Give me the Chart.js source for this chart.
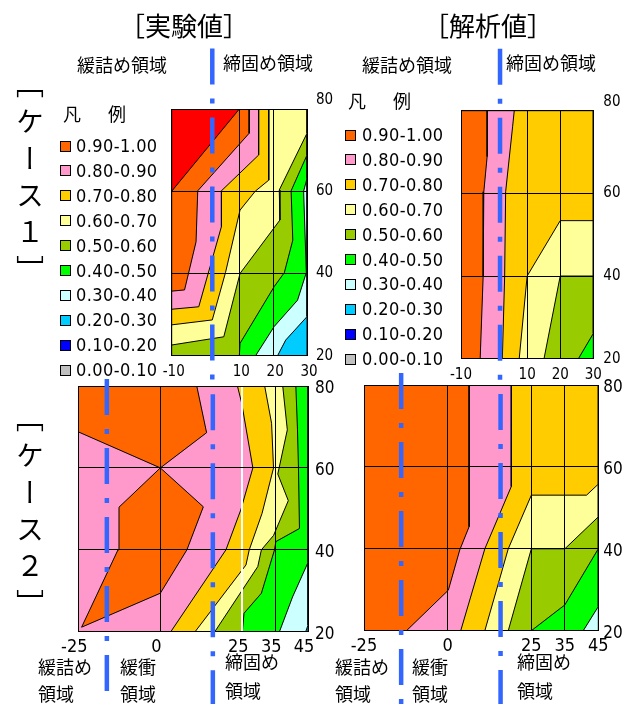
<!DOCTYPE html>
<html>
<head>
<meta charset="utf-8">
<script src="https://cdn.jsdelivr.net/npm/chart.js@4.4.1/dist/chart.umd.min.js"></script>
<style>
  html, body { margin: 0; padding: 0; background: #fff; }
  #page { position: relative; width: 636px; height: 704px; overflow: hidden;
          font-family: "Noto Sans CJK JP", sans-serif; color: #000; }
  #page canvas { position: absolute; left: 0; top: 0; }
  .t { position: absolute; white-space: nowrap; line-height: 1; }
  .c { transform: translate(-50%, -50%); }
  .l { transform: translate(0, -50%); }
  .title { font-size: 26px; }
  .zone { font-size: 18px; }
  .hanrei { font-size: 18px; letter-spacing: 4.5px; }
  .case { position: absolute; writing-mode: vertical-rl; font-size: 28px;
          letter-spacing: 9px; line-height: 1; }
  .sw { position: absolute; width: 11px; height: 11px; box-sizing: border-box;
        border: 1.5px solid #000; }
  .lg { position: absolute; white-space: nowrap; line-height: 1; transform: translate(0, -50%);
        font-family: "Liberation Sans Narrow", "DejaVu Sans Condensed", "Liberation Sans", sans-serif;
        font-size: 18px; letter-spacing: 0.4px; }
</style>
</head>
<body>
<div id="page">
  <canvas id="case1Exp" width="636" height="704"></canvas>
  <canvas id="case1Ana" width="636" height="704"></canvas>
  <canvas id="case2Exp" width="636" height="704"></canvas>
  <canvas id="case2Ana" width="636" height="704"></canvas>

  <div class="t c title" style="left:184px;top:25px">［実験値］</div>
  <div class="t c title" style="left:488px;top:25px">［解析値］</div>
  <div class="t l zone" style="left:77px;top:64px">緩詰め領域</div>
  <div class="t l zone" style="left:223px;top:62px">締固め領域</div>
  <div class="t l zone" style="left:362px;top:64px">緩詰め領域</div>
  <div class="t l zone" style="left:506px;top:62px">締固め領域</div>

  <div class="t l hanrei" style="left:63px;top:113px">凡　例</div>
  <div class="t l hanrei" style="left:348px;top:100px">凡　例</div>
  <div id="legendLeft"></div>
  <div id="legendRight"></div>

  <div class="case" style="left:16px;top:70px">［ケース１］</div>
  <div class="case" style="left:16px;top:404px">［ケース２］</div>

  <div class="t l zone" style="left:38px;top:666px">緩詰め</div>
  <div class="t l zone" style="left:38px;top:693px">領域</div>
  <div class="t l zone" style="left:120px;top:666px">緩衝</div>
  <div class="t l zone" style="left:120px;top:693px">領域</div>
  <div class="t l zone" style="left:225px;top:661px">締固め</div>
  <div class="t l zone" style="left:225px;top:690px">領域</div>
  <div class="t l zone" style="left:335px;top:666px">緩詰め</div>
  <div class="t l zone" style="left:335px;top:693px">領域</div>
  <div class="t l zone" style="left:412px;top:666px">緩衝</div>
  <div class="t l zone" style="left:412px;top:693px">領域</div>
  <div class="t l zone" style="left:517px;top:661px">締固め</div>
  <div class="t l zone" style="left:517px;top:690px">領域</div>
</div>

<script>
// Band colours, keyed by the band's lower bound x10 (10 = above 1.00)
const bandColors = {
  10: '#FF0000', 9: '#FF6600', 8: '#FF99CC', 7: '#FFCC00', 6: '#FFFF99',
  5: '#99CC00', 4: '#00FF00', 3: '#CCFFFF', 2: '#00CCFF', 1: '#0000FF', 0: '#C0C0C0'
};
const legendLabels = ['0.90-1.00', '0.80-0.90', '0.70-0.80', '0.60-0.70', '0.50-0.60',
                      '0.40-0.50', '0.30-0.40', '0.20-0.30', '0.10-0.20', '0.00-0.10'];
const legendLevels = [9, 8, 7, 6, 5, 4, 3, 2, 1, 0];

// Axis ticks
const xTicksCase1 = [-10, 10, 20, 30];
const xTicksCase2 = [-25, 0, 25, 35, 45];
const yTicks = [20, 40, 60, 80];

// Contour bands: [lower bound of band, region at or above it as (x, y) outline]
const expCase1 = [
  [0.2, [[-10, 20], [30, 20], [30, 80], [-10, 80]]],
  [0.3, [[-10, 80], [30, 80], [30, 29.5], [23.7, 23.8], [21.3, 20], [-10, 20]]],
  [0.4, [[-10, 80], [30, 80], [30, 63.1], [29, 60], [29.8, 40.2], [27.2, 33.5], [20.3, 27.1], [14.8, 20], [-10, 20]]],
  [0.5, [[-10, 80], [30, 80], [30, 68.8], [25.3, 60.1], [25.8, 48.1], [23.3, 40.2], [20.3, 36.8], [10.2, 23], [10, 20], [-10, 20]]],
  [0.6, [[-10, 80], [30, 80], [30, 74.1], [21.8, 60.3], [22, 53], [10.2, 40], [5.4, 24.6], [-10, 22.6]]],
  [0.7, [[-10, 80], [18.7, 80], [18.7, 62.7], [14.7, 60], [10.2, 55.4], [5.9, 40.2], [2, 28.7], [-10, 27.5]]],
  [0.8, [[-10, 80], [15.7, 80], [15.7, 68.8], [4.7, 60.1], [4.7, 51.4], [-2, 31.9], [-10, 31.3]]],
  [0.9, [[-10, 80], [12.9, 80], [12.9, 74.1], [-2.3, 60.1], [-2.8, 47.7], [-6.2, 36], [-10, 35.7]]],
  [1.0, [[-10, 80], [10, 80], [-10, 60]]]
];

const anaCase1 = [
  [0.4, [[-10, 20], [30, 20], [30, 80], [-10, 80]]],
  [0.5, [[-10, 80], [30, 80], [30, 26.1], [25.5, 20], [-10, 20]]],
  [0.6, [[-10, 80], [30, 80], [30, 40], [20, 40], [15.1, 20], [-10, 20]]],
  [0.7, [[-10, 80], [30, 80], [30, 53.4], [20, 53.4], [10, 40], [7.6, 20], [-10, 20]]],
  [0.8, [[-10, 80], [6.1, 80], [5.6, 76.1], [3.5, 60.4], [3.2, 40], [2.5, 20], [-10, 20]]],
  [0.9, [[-10, 80], [-2.1, 80], [-2.1, 68.9], [-3.1, 60.4], [-3.3, 40], [-4.2, 20], [-10, 20]]]
];

const expCase2 = [
  [0.2, [[-25, 20], [45, 20], [45, 80], [-25, 80]]],
  [0.3, [[-25, 80], [45, 80], [45, 21.6], [44.3, 20], [-25, 20]]],
  [0.4, [[-25, 80], [45, 80], [45, 36.9], [40.3, 28.5], [36.3, 20], [-25, 20]]],
  [0.5, [[-25, 80], [41.3, 80], [41.8, 69.3], [42.1, 60], [42.4, 45.2], [35.2, 42], [34.8, 40], [30.8, 29.4], [25.5, 24.5], [25, 20], [-25, 20]]],
  [0.6, [[-25, 80], [37.3, 80], [38.7, 69.3], [35.8, 58.5], [39, 52], [34.5, 43.5], [30.8, 40], [29.7, 35.9], [16.6, 20], [-25, 20]]],
  [0.7, [[-25, 80], [31.8, 80], [33.9, 70.9], [34.5, 60], [31, 48.9], [27.1, 40], [26.1, 36.3], [10.6, 20], [-25, 20]]],
  [0.8, [[-25, 80], [23.5, 80], [24.8, 75.8], [28.2, 60], [24.5, 49.7], [20, 40], [3.2, 20], [-25, 20]]],
  [0.9, [[-25, 80], [11.1, 80], [14.1, 68.6], [0, 60], [-25, 68.8]]],
  [0.9, [[0, 60], [13.1, 50.5], [8.1, 40], [0, 29.4], [-24, 21.1], [-12.9, 40], [-12.6, 50.4]]]
];

const anaCase2 = [
  [0.3, [[-25, 20], [45, 20], [45, 80], [-25, 80]]],
  [0.4, [[-25, 80], [45, 80], [45, 25.9], [40.5, 20], [-25, 20]]],
  [0.5, [[-25, 80], [45, 80], [45, 40], [35, 26.3], [25, 20], [-25, 20]]],
  [0.6, [[-25, 80], [45, 80], [45, 47.8], [35, 40], [25, 40], [18.1, 20], [-25, 20]]],
  [0.7, [[-25, 80], [45, 80], [45, 55.8], [41.5, 53.1], [25, 53.1], [18.1, 40], [11.1, 20], [-25, 20]]],
  [0.8, [[-25, 80], [19, 80], [19, 55.2], [11.1, 40], [3.9, 20], [-25, 20]]],
  [0.9, [[-25, 80], [6.4, 80], [6.4, 45.4], [3.6, 39.7], [0.2, 29.9], [-12.3, 20], [-25, 20]]]
];

// Zone divider lines (x position and vertical extent, in each panel's units)
const dividersCase1Exp = [{ x: 2.0, from: 94.7, to: 10.7 }];
const dividersCase1Ana = [{ x: 1.8, from: 95.0, to: 11.5 }];
const dividersCase2Exp = [{ x: -16.3, from: 81.7, to: 0 }, { x: 16.0, from: 78.0, to: 0 }];
const dividersCase2Ana = [{ x: -13.9, from: 82.9, to: 0 }, { x: 15.8, from: 77.8, to: 0 }];

const NARROW = '"Liberation Sans Narrow", "DejaVu Sans Condensed", "Liberation Sans", sans-serif';
const X_AXIS_H = 34;   // room kept under each panel for its x tick labels
const Y_AXIS_W = 30;   // room kept right of each panel for its y tick labels

// Dash-dot divider lines, drawn on top of everything through the panel's scales
const dividerPlugin = {
  id: 'dividers',
  afterDraw(chart, args, opts) {
    const { ctx } = chart;
    const xs = chart.scales.x, ys = chart.scales.y;
    ctx.save();
    ctx.strokeStyle = '#3366FF';
    ctx.lineWidth = 4.5;
    ctx.lineCap = 'butt';
    ctx.setLineDash([36, 14, 5, 14]);
    for (const d of opts.lines || []) {
      const px = xs.getPixelForValue(d.x);
      ctx.beginPath();
      ctx.moveTo(px, ys.getPixelForValue(d.from));
      ctx.lineTo(px, ys.getPixelForValue(d.to));
      ctx.stroke();
    }
    ctx.restore();
  }
};

function bandDatasets(bands) {
  const n = bands.length;
  return bands.map(([level, pts], i) => ({
    data: pts.concat([pts[0]]).map(([x, y]) => ({ x, y })),
    backgroundColor: bandColors[Math.round(level * 10)],
    borderColor: '#000',
    borderWidth: 1,
    borderJoinStyle: 'miter',
    fill: 'shape',
    pointRadius: 0,
    tension: 0,
    order: n - i
  }));
}

// area: left/top/right/bottom edges of the plotting area on the page
function makePanel(id, bands, cfg) {
  const a = cfg.area;
  new Chart(document.getElementById(id), {
    type: 'line',
    data: { datasets: bandDatasets(bands) },
    plugins: [dividerPlugin],
    options: {
      responsive: false,
      animation: false,
      devicePixelRatio: 1,
      events: [],
      layout: {
        padding: {
          left: a.left,
          top: a.top,
          right: 636 - a.right - Y_AXIS_W,
          bottom: 704 - a.bottom - X_AXIS_H
        }
      },
      plugins: {
        legend: { display: false },
        tooltip: { enabled: false },
        dividers: { lines: cfg.dividers }
      },
      scales: {
        x: {
          type: 'linear', min: cfg.xMin, max: cfg.xMax,
          afterBuildTicks: s => { s.ticks = cfg.xTicks.map(v => ({ value: v })); },
          afterFit: s => { s.height = X_AXIS_H; },
          grid: {
            drawTicks: false, z: 1,
            color: c => (cfg.lightX && c.tick && c.tick.value === cfg.lightX) ? '#FFFFFF' : '#000000',
            lineWidth: c => (cfg.lightX && c.tick && c.tick.value === cfg.lightX) ? 2 : 1
          },
          border: { color: '#000', width: 1, z: 1 },
          ticks: {
            autoSkip: false, maxRotation: 0, minRotation: 0, color: '#000',
            padding: cfg.xPad, labelOffset: cfg.xLabelOffset || 0,
            font: { family: NARROW, size: cfg.xFont }
          }
        },
        y: {
          type: 'linear', position: 'right', min: 20, max: 80,
          afterBuildTicks: s => { s.ticks = yTicks.map(v => ({ value: v })); },
          afterFit: s => { s.width = Y_AXIS_W; },
          grid: { drawTicks: false, z: 1, color: '#000', lineWidth: 1 },
          border: { color: '#000', width: 1, z: 1 },
          ticks: {
            autoSkip: false, color: '#000',
            padding: cfg.yPad, labelOffset: cfg.yLabelOffset || 0,
            font: { family: NARROW, size: cfg.yFont },
            // the top label sits a little above the frame
            callback: v => (cfg.raiseTop && v === 80) ? ['80', ''] : String(v)
          }
        }
      }
    }
  });
}

makePanel('case1Exp', expCase1, {
  area: { left: 171.7, top: 109, right: 307, bottom: 355.7 },
  xMin: -10, xMax: 30, xTicks: xTicksCase1, xPad: 7, xFont: 15, xLabelOffset: 2,
  yPad: 9, yFont: 15, raiseTop: true, dividers: dividersCase1Exp
});
makePanel('case1Ana', anaCase1, {
  area: { left: 461, top: 110.7, right: 593.3, bottom: 358.7 },
  xMin: -10, xMax: 30, xTicks: xTicksCase1, xPad: 7, xFont: 15,
  yPad: 10, yFont: 15, raiseTop: true, dividers: dividersCase1Ana
});
makePanel('case2Exp', expCase2, {
  area: { left: 78.3, top: 386, right: 308, bottom: 631.7 },
  xMin: -25, xMax: 45, xTicks: xTicksCase2, xPad: 5, xFont: 18, xLabelOffset: -4,
  yPad: 7, yFont: 17, yLabelOffset: 3, lightX: 25,
  dividers: dividersCase2Exp
});
makePanel('case2Ana', anaCase2, {
  area: { left: 364, top: 385, right: 598.3, bottom: 630.7 },
  xMin: -25, xMax: 45, xTicks: xTicksCase2, xPad: 5, xFont: 18,
  yPad: 5, yFont: 17, yLabelOffset: 3,
  dividers: dividersCase2Ana
});

// Colour key beside each upper panel
function buildLegend(elId, swLeft, textLeft, firstCy, step) {
  const host = document.getElementById(elId);
  legendLabels.forEach((label, i) => {
    const cy = firstCy + i * step;
    const sw = document.createElement('div');
    sw.className = 'sw';
    sw.style.left = swLeft + 'px';
    sw.style.top = (cy - 5.5) + 'px';
    sw.style.background = bandColors[legendLevels[i]];
    host.appendChild(sw);
    const tx = document.createElement('div');
    tx.className = 'lg';
    tx.style.left = textLeft + 'px';
    tx.style.top = cy + 'px';
    tx.textContent = label;
    host.appendChild(tx);
  });
}
buildLegend('legendLeft', 60, 76, 146, 24.9);
buildLegend('legendRight', 345, 362, 135, 24.9);
</script>
</body>
</html>
